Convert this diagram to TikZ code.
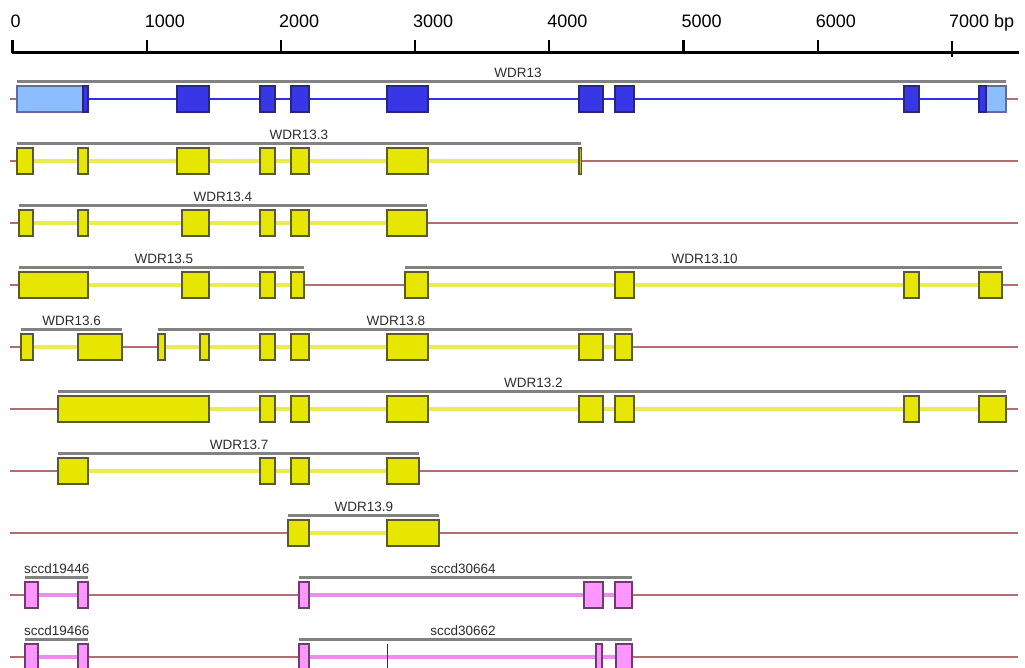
\documentclass[tikz,border=0pt]{standalone}
\usepackage{fontspec}
\setmainfont{Liberation Sans}
\definecolor{bbcol}{RGB}{180,110,110}
\definecolor{yfill}{RGB}{230,230,0}
\definecolor{ydraw}{RGB}{90,90,50}
\definecolor{yline}{RGB}{236,236,80}
\definecolor{bfill}{RGB}{55,55,232}
\definecolor{bdraw}{RGB}{40,40,120}
\definecolor{lbfill}{RGB}{140,190,255}
\definecolor{bline}{RGB}{50,50,220}
\definecolor{pfill}{RGB}{255,150,255}
\definecolor{pdraw}{RGB}{110,60,110}
\definecolor{pline}{RGB}{240,140,240}
\definecolor{labline}{RGB}{130,130,130}
\definecolor{labtext}{RGB}{45,45,45}
\tikzset{
  backbone/.style={draw=bbcol, line width=1.5pt},
  yint/.style={draw=yline, line width=3.4pt},
  bint/.style={draw=bline, line width=2.8pt},
  pint/.style={draw=pline, line width=3.2pt},
  yex/.style={fill=yfill, draw=ydraw, line width=1.7pt},
  yexthin/.style={fill=yfill!60!gray, draw=ydraw, line width=1.7pt},
  bex/.style={fill=bfill, draw=bdraw, line width=1.7pt},
  lbex/.style={fill=lbfill, draw=bdraw!70, line width=1.7pt},
  pex/.style={fill=pfill, draw=pdraw, line width=1.7pt},
  labrule/.style={draw=labline, line width=2.2pt},
  labtxt/.style={text=labtext, font=\fontsize{13.5}{15}\selectfont, anchor=base, inner sep=0pt},
  axtxt/.style={font=\fontsize{18}{20}\selectfont, anchor=base west, inner sep=0pt},
  axline/.style={draw=black, line width=2.2pt},
}
\newcommand{\gexon}[3][yex]{\filldraw[#1] (#2,{\yc-13.3}) rectangle (#3,{\yc+13.3});}
\newcommand{\gintron}[3][yint]{\draw[#1] (#2,\yc) -- (#3,\yc);}
\newcommand{\gbackbone}{\draw[backbone] (10,\yc) -- (1018,\yc);}
\newcommand{\glabel}[5]{\draw[labrule] (#1,{\yc-17.5}) -- (#2,{\yc-17.5});
  \node[labtxt] (#5) at (#3,{\yc-21.5}) {#4};}
\begin{document}
\begin{tikzpicture}[x=1pt,y=-1pt]
\useasboundingbox (0,0) rectangle (1025,668);
\clip (0,0) rectangle (1025,668);
% axis
\draw[axline] (12,52.5) -- (1019,52.5);
\foreach \t/\lab [count=\i] in {0/0,1/1000,2/2000,3/3000,4/4000,5/5000,6/6000} {
  \draw[axline] ({12.4+134.2*\t},40.3) -- ({12.4+134.2*\t},53.5);
  \node[axtxt] (ax\i) at ({12.4+134.2*\t-2},27.5) {\lab};
}
\draw[axline] ({12.4+134.2*7},41.5) -- ({12.4+134.2*7},57);
\node[axtxt] (ax8) at ({12.4+134.2*7-3},27.5) {7000 bp};

% Row 1 WDR13
\def\yc{99}
\gbackbone
\gintron[bint]{88.3}{979}
\gexon[lbex]{17.3}{82.7}
\gexon[bex]{82.7}{88.3}
\gexon[bex]{176.7}{209.3}
\gexon[bex]{260.3}{275}
\gexon[bex]{291}{309}
\gexon[bex]{386.7}{428}
\gexon[bex]{578.7}{602.7}
\gexon[bex]{615.3}{634}
\gexon[bex]{903.7}{919}
\gexon[lbex]{985.7}{1005.7}
\gexon[bex]{979}{985.7}
\glabel{16.7}{1005.7}{518}{WDR13}{l1}

% Row 2 WDR13.3
\def\yc{161}
\gbackbone
\gintron{17.3}{580}
\gexon{17.3}{32.7}
\gexon{77.7}{88.3}
\gexon{177}{209.3}
\gexon{260.3}{275}
\gexon{291}{309}
\gexon{387}{428}
\gexon[yexthin]{578.9}{581.5}
\glabel{16.7}{581}{299}{WDR13.3}{l2}

% Row 3 WDR13.4
\def\yc{223}
\gbackbone
\gintron{19.3}{427.3}
\gexon{19.3}{32.7}
\gexon{77.7}{88.3}
\gexon{181.7}{209.3}
\gexon{260.3}{275}
\gexon{291}{309}
\gexon{387}{427.3}
\glabel{19.3}{427.3}{223}{WDR13.4}{l3}

% Row 4 WDR13.5 / WDR13.10
\def\yc{285}
\gbackbone
\gintron{19.3}{304}
\gintron{405}{1002.3}
\gexon{19.3}{88.3}
\gexon{181.7}{209.3}
\gexon{260.3}{275}
\gexon{291}{304}
\gexon{405}{428}
\gexon{615.3}{634}
\gexon{903.7}{919}
\gexon{979}{1002.3}
\glabel{19.3}{304}{164}{WDR13.5}{l4}
\glabel{405}{1002.3}{704.7}{WDR13.10}{l5}

% Row 5 WDR13.6 / WDR13.8
\def\yc{347}
\gbackbone
\gintron{20.7}{122.3}
\gintron{158.3}{631.7}
\gexon{20.7}{32.7}
\gexon{77.7}{122.3}
\gexon{158.3}{165}
\gexon{200}{209.3}
\gexon{260.3}{275}
\gexon{291}{309}
\gexon{387}{428}
\gexon{578.7}{602.7}
\gexon{615.3}{631.7}
\glabel{20.7}{121.7}{71.7}{WDR13.6}{l6}
\glabel{157.7}{631.7}{395.8}{WDR13.8}{l7}

% Row 6 WDR13.2
\def\yc{409}
\gbackbone
\gintron{58.3}{1005.7}
\gexon{58.3}{209.3}
\gexon{260.3}{275}
\gexon{291}{309}
\gexon{387}{428}
\gexon{578.7}{602.7}
\gexon{615.3}{634}
\gexon{903.7}{919}
\gexon{979}{1005.7}
\glabel{58.3}{1005.7}{533.3}{WDR13.2}{l8}

% Row 7 WDR13.7
\def\yc{471}
\gbackbone
\gintron{58.3}{419}
\gexon{58.3}{88.3}
\gexon{260.3}{275}
\gexon{291}{309}
\gexon{387}{419}
\glabel{58.3}{419}{239.2}{WDR13.7}{l9}

% Row 8 WDR13.9
\def\yc{533}
\gbackbone
\gintron{309}{387}
\gexon{288.3}{309}
\gexon{387}{438.7}
\glabel{288.3}{438.7}{364}{WDR13.9}{l10}

% Row 9 sccd19446 / sccd30664
\def\yc{595}
\gbackbone
\gintron[pint]{25}{88.3}
\gintron[pint]{299.3}{632.3}
\gexon[pex]{25}{38.3}
\gexon[pex]{77.7}{88.3}
\gexon[pex]{299.3}{309.3}
\gexon[pex]{584.3}{602.7}
\gexon[pex]{615.3}{632.3}
\glabel{25}{88.3}{56.7}{sccd19446}{l11}
\glabel{299.3}{632.3}{463}{sccd30664}{l12}

% Row 10 sccd19466 / sccd30662
\def\yc{657}
\gbackbone
\gintron[pint]{25}{88.3}
\gintron[pint]{299.3}{632.3}
\gexon[pex]{25}{38.3}
\gexon[pex]{77.7}{88.3}
\gexon[pex]{299.3}{309.3}
\gexon[pex]{596}{602}
\gexon[pex]{616}{632.3}
\draw[draw=black!80, line width=1.5pt] (387.3,{\yc-13.3}) -- (387.3,{\yc+13.3});
\glabel{25}{88.3}{56.7}{sccd19466}{l13}
\glabel{299.3}{632.3}{463}{sccd30662}{l14}
\end{tikzpicture}
\end{document}
